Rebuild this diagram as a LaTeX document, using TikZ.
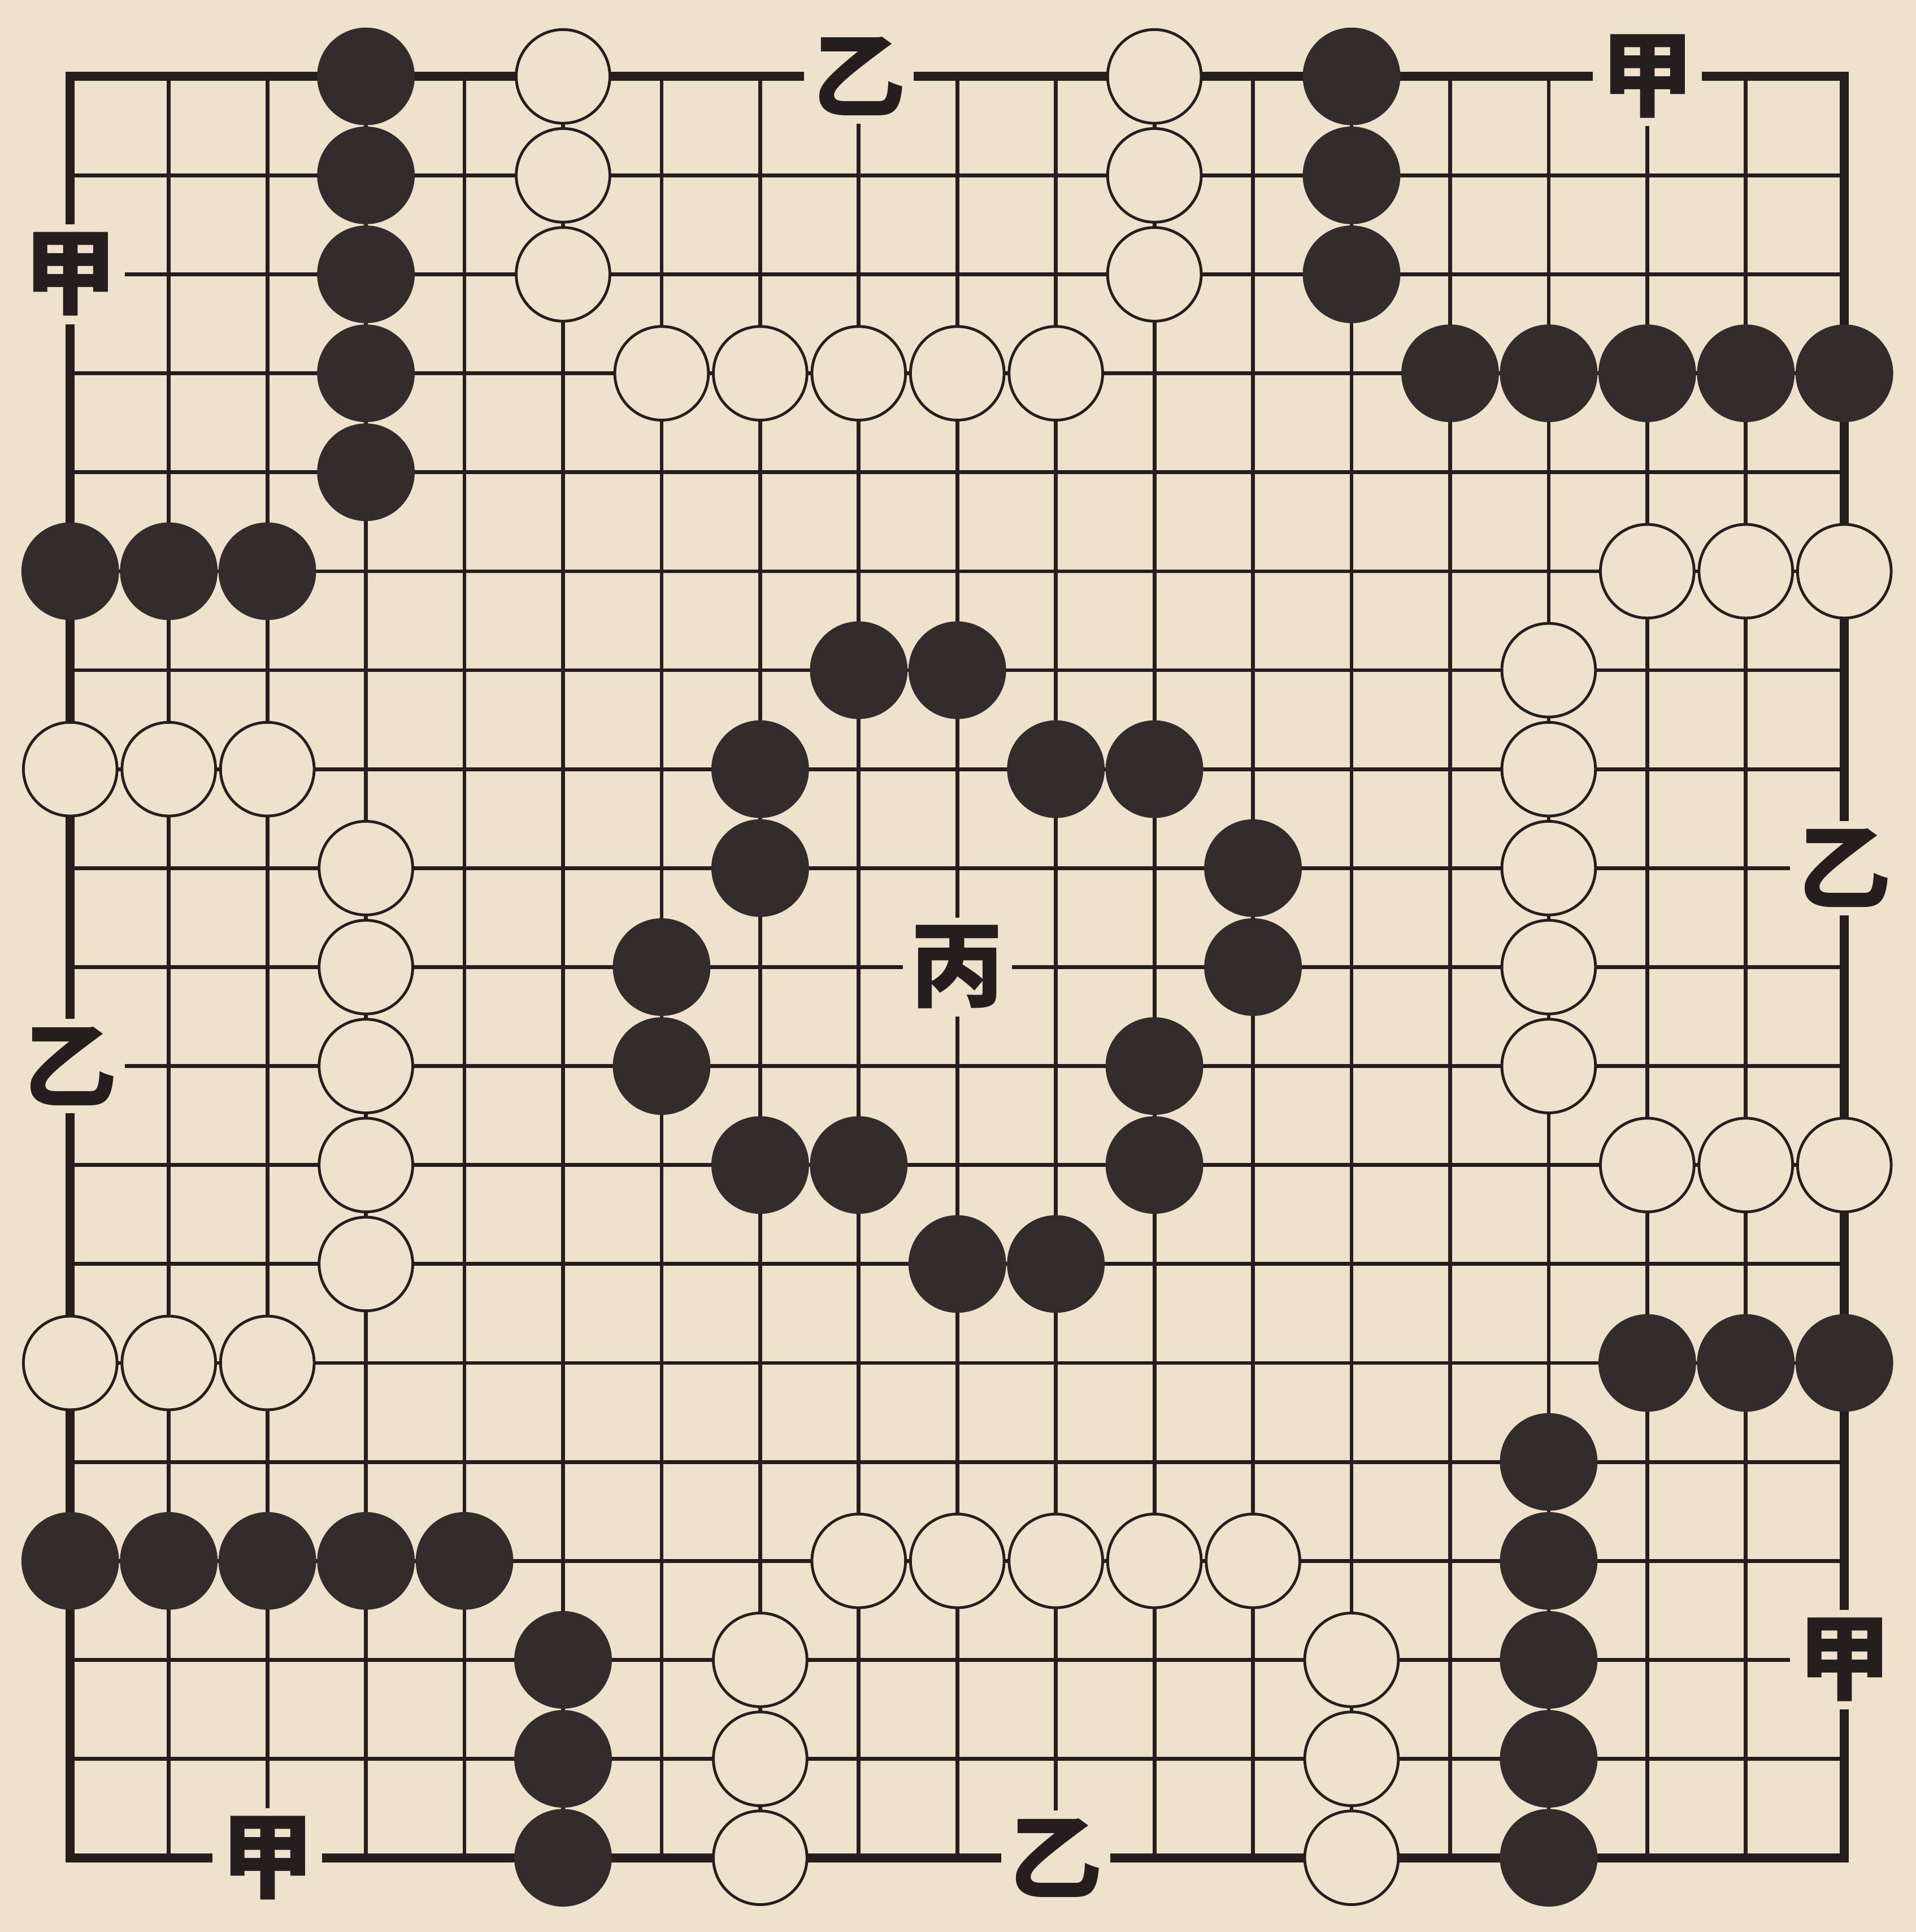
\documentclass[tikz,border=0pt]{standalone}
\usepackage{fontspec}
\newfontfamily\cjk{Noto Sans CJK SC}
\definecolor{paper}{RGB}{238,226,204}
\definecolor{ink}{RGB}{38,30,30}
\definecolor{stoneblack}{RGB}{50,44,44}
\tikzset{
  gridline/.style={draw=ink,line width=1.1pt},
  borderline/.style={draw=ink,line width=2.6pt,line join=miter},
  bstone/.style={circle,fill=stoneblack,draw=stoneblack,line width=0.3pt,minimum size=0.98cm,inner sep=0pt},
  wstone/.style={circle,fill=paper,draw=ink,line width=0.8pt,minimum size=0.95cm,inner sep=0pt},
  lbl/.style={fill=paper,inner sep=0.08cm,text=ink,font=\cjk\bfseries\fontsize{27}{27}\selectfont}
}
\begin{document}
\begin{tikzpicture}[x=1cm,y=-1.004cm]
\fill[paper] (-0.7125,-0.772) rectangle (18.725,18.75);
\useasboundingbox (-0.7125,-0.772) rectangle (18.725,18.75);
% grid
\foreach \i in {1,...,17} {
  \draw[gridline] (\i,0) -- (\i,18);
  \draw[gridline] (0,\i) -- (18,\i);
}
\draw[borderline] (0,0) rectangle (18,18);
% labels
\node[lbl] (jia1) at (16,0) {甲};
\node[lbl] (jia2) at (0,2) {甲};
\node[lbl] (jia3) at (18,16) {甲};
\node[lbl] (jia4) at (2,18) {甲};
\node[lbl] (yi1) at (8,0) {乙};
\node[lbl] (yi2) at (0,10) {乙};
\node[lbl] (yi3) at (18,8) {乙};
\node[lbl] (yi4) at (10,18) {乙};
\node[lbl] (bing) at (9,9) {丙};
% black stones
\foreach \c/\r [count=\k] in {3/0,3/1,3/2,3/3,3/4,
  13/0,13/1,13/2,
  14/3,15/3,16/3,17/3,18/3,
  0/5,1/5,2/5,
  8/6,9/6,7/7,7/8,10/7,11/7,12/8,12/9,6/9,6/10,11/10,11/11,7/11,8/11,9/12,10/12,
  16/13,17/13,18/13,
  15/14,15/15,15/16,15/17,15/18,
  0/15,1/15,2/15,3/15,4/15,
  5/16,5/17,5/18}
  \node[bstone] (b\k) at (\c,\r) {};
% white stones
\foreach \c/\r [count=\k] in {5/0,5/1,5/2,
  11/0,11/1,11/2,
  6/3,7/3,8/3,9/3,10/3,
  16/5,17/5,18/5,
  0/7,1/7,2/7,
  15/6,15/7,15/8,15/9,15/10,
  3/8,3/9,3/10,3/11,3/12,
  16/11,17/11,18/11,
  0/13,1/13,2/13,
  8/15,9/15,10/15,11/15,12/15,
  7/16,7/17,7/18,
  13/16,13/17,13/18}
  \node[wstone] (w\k) at (\c,\r) {};
\end{tikzpicture}
\end{document}
